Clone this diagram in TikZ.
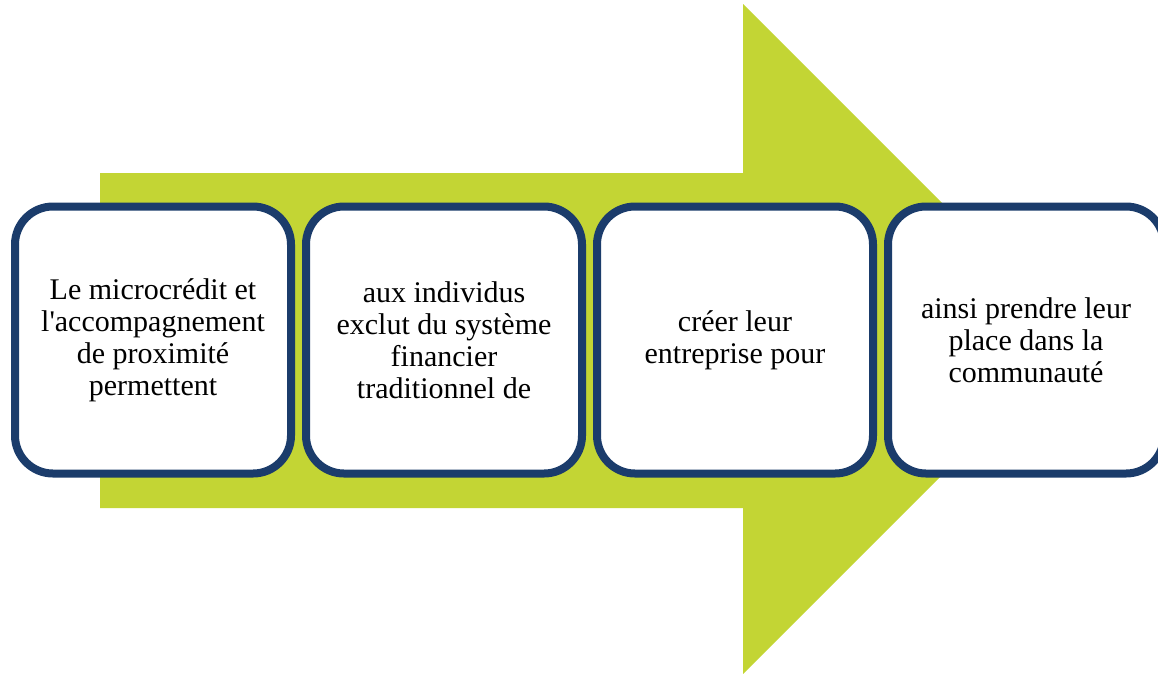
\documentclass[tikz,border=0pt]{standalone}
\usepackage{fontspec}
\setmainfont{Liberation Serif}
\definecolor{arrowgreen}{HTML}{C3D534}
\definecolor{boxblue}{HTML}{1B3C6B}
\begin{document}
\begin{tikzpicture}[x=1pt,y=-1pt,
  stepbox/.style={draw=boxblue, line width=8pt, fill=white, rounded corners=38pt,
    minimum width=276pt, minimum height=267pt, align=center,
    font=\fontsize{30pt}{32pt}\selectfont, inner sep=0pt}]
\useasboundingbox (0,0) rectangle (1158,673);
\fill[arrowgreen] (100,173) -- (743,173) -- (743,4) -- (1078,339) -- (743,674) -- (743,508) -- (100,508) -- cycle;
\node[stepbox] (b1) at (153,340) {Le microcrédit et\\l\textquotesingle accompagnement\\de proximité\\permettent};
\node[stepbox] (b2) at (444,340) {aux individus\\exclut du système\\financier\\traditionnel de};
\node[stepbox] (b3) at (735,340) {créer leur\\entreprise pour};
\node[stepbox] (b4) at (1026,340) {ainsi prendre leur\\place dans la\\communauté};
\end{tikzpicture}
\end{document}
